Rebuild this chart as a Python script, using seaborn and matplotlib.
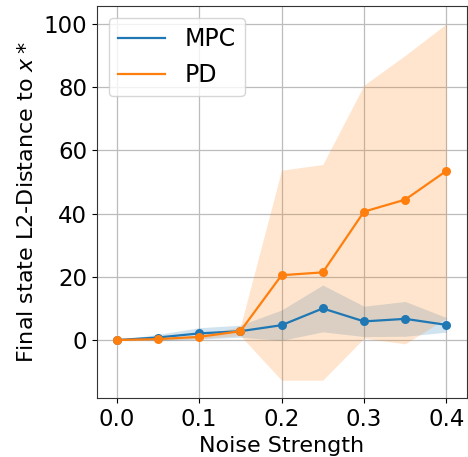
import matplotlib
matplotlib.use("Agg")
import matplotlib.pyplot as plt
from matplotlib.lines import Line2D
import numpy as np
import pandas as pd
import seaborn as sns

# Noise levels and final-state distances (mean +/- std)
noise = [0.0, 0.05, 0.1, 0.15, 0.2, 0.25, 0.3, 0.35, 0.4]
mpc_mean = [0.0, 0.8, 2.1, 2.8, 4.7, 10.0, 5.9, 6.7, 4.8]
mpc_std = [0.0, 1.0, 1.8, 1.9, 4.8, 7.4, 4.8, 5.5, 2.3]
pd_mean = [0.0, 0.3, 1.0, 2.8, 20.5, 21.4, 40.6, 44.4, 53.5]
pd_std = [0.0, 0.2, 0.6, 1.4, 33.2, 34.1, 40.0, 45.6, 46.5]

methods = ["MPC", "PD"]
colors = {"MPC": "#1f77b4", "PD": "#ff7f0e"}

df = pd.DataFrame({
    "noise": noise * 2,
    "dist": mpc_mean + pd_mean,
    "std": mpc_std + pd_std,
    "method": ["MPC"] * len(noise) + ["PD"] * len(noise),
})

fig = plt.figure(figsize=(4.68, 4.57), dpi=100)
ax = fig.add_axes([0.207, 0.129, 0.791, 0.858])

for m in methods:
    sub = df[df["method"] == m]
    ax.fill_between(sub["noise"], sub["dist"] - sub["std"], sub["dist"] + sub["std"],
                    color=colors[m], alpha=0.2, linewidth=0)
    sns.lineplot(data=sub, x="noise", y="dist", color=colors[m], marker="o",
                 markersize=6.5, markeredgewidth=0, linewidth=1.6, ax=ax, legend=False)

ax.grid(True, color="#bcbcbc", linewidth=0.9)
ax.set_axisbelow(True)
ax.set_xlim(-0.024, 0.425)
ax.set_xticks([0.0, 0.1, 0.2, 0.3, 0.4])
ax.set_yticks([0, 20, 40, 60, 80, 100])
ax.tick_params(labelsize=16.5)
ax.set_xlabel("Noise Strength", fontsize=16, labelpad=4)
ax.set_ylabel("Final state L2-Distance to $x*$", fontsize=16, labelpad=5)
for s in ax.spines.values():
    s.set_color("#333333")

handles = [Line2D([0], [0], color=colors[m], linewidth=1.6) for m in methods]
ax.legend(handles, methods, loc="upper left", fontsize=17)

fig.savefig("out.png", dpi=100)
